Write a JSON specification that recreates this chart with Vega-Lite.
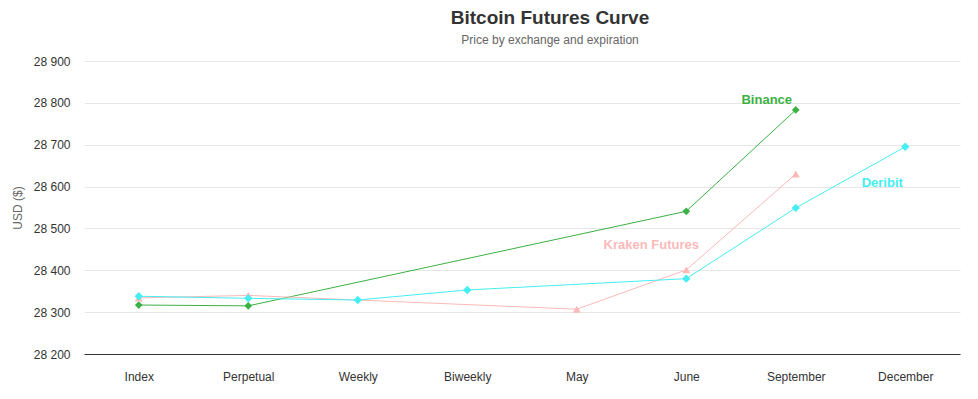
{
  "$schema": "https://vega.github.io/schema/vega-lite/v6.json",
  "width": 876,
  "height": 293,
  "autosize": "none",
  "padding": {"left": 84, "top": 61, "right": 18, "bottom": 45},
  "background": "white",
  "view": {"stroke": null},
  "title": {
    "text": "Bitcoin Futures Curve",
    "subtitle": "Price by exchange and expiration",
    "anchor": "middle",
    "frame": "group",
    "dx": 28,
    "offset": 9,
    "font": "Liberation Sans",
    "fontSize": 19,
    "fontWeight": "bold",
    "color": "#333333",
    "subtitleFont": "Liberation Sans",
    "subtitleFontSize": 12,
    "subtitleColor": "#666666",
    "subtitlePadding": 7
  },
  "datasets": {
    "prices": [
      {"series": "Binance", "expiry": "Index", "price": 28317},
      {"series": "Binance", "expiry": "Perpetual", "price": 28315},
      {"series": "Binance", "expiry": "June", "price": 28541},
      {"series": "Binance", "expiry": "September", "price": 28783},
      {"series": "Kraken Futures", "expiry": "Index", "price": 28334},
      {"series": "Kraken Futures", "expiry": "Perpetual", "price": 28340},
      {"series": "Kraken Futures", "expiry": "May", "price": 28307},
      {"series": "Kraken Futures", "expiry": "June", "price": 28401},
      {"series": "Kraken Futures", "expiry": "September", "price": 28630},
      {"series": "Deribit", "expiry": "Index", "price": 28338},
      {"series": "Deribit", "expiry": "Perpetual", "price": 28333},
      {"series": "Deribit", "expiry": "Weekly", "price": 28329},
      {"series": "Deribit", "expiry": "Biweekly", "price": 28353},
      {"series": "Deribit", "expiry": "June", "price": 28380},
      {"series": "Deribit", "expiry": "September", "price": 28549},
      {"series": "Deribit", "expiry": "December", "price": 28695}
    ],
    "labels": [
      {"series": "Binance", "expiry": "September", "price": 28807},
      {"series": "Kraken Futures", "expiry": "June", "price": 28460},
      {"series": "Deribit", "expiry": "December", "price": 28608}
    ]
  },
  "encoding": {
    "x": {
      "field": "expiry",
      "type": "ordinal",
      "scale": {
        "type": "point",
        "padding": 0.5,
        "domain": ["Index", "Perpetual", "Weekly", "Biweekly", "May", "June", "September", "December"]
      },
      "axis": {
        "title": null,
        "labelAngle": 0,
        "ticks": false,
        "tickSize": 0,
        "labelPadding": 17,
        "labelFont": "Liberation Sans",
        "labelFontSize": 12,
        "labelColor": "#333333",
        "domainColor": "#333333",
        "domainWidth": 1,
        "grid": false
      }
    },
    "y": {
      "field": "price",
      "type": "quantitative",
      "scale": {"domain": [28200, 28900], "nice": false, "zero": false},
      "axis": {
        "title": "USD ($)",
        "titleFont": "Liberation Sans",
        "titleFontSize": 12,
        "titleFontWeight": "normal",
        "titleColor": "#666666",
        "titlePadding": 9,
        "values": [28200, 28300, 28400, 28500, 28600, 28700, 28800, 28900],
        "labelExpr": "replace(format(datum.value, ','), ',', ' ')",
        "labelFont": "Liberation Sans",
        "labelFontSize": 12,
        "labelColor": "#333333",
        "labelPadding": 14,
        "ticks": false,
        "tickSize": 0,
        "domain": false,
        "grid": true,
        "gridColor": "#e6e6e6",
        "gridWidth": 1
      }
    },
    "color": {
      "field": "series",
      "type": "nominal",
      "scale": {
        "domain": ["Binance", "Kraken Futures", "Deribit"],
        "range": ["#3bb143", "#fbb9b9", "#44eef2"]
      },
      "legend": null
    }
  },
  "layer": [
    {
      "data": {"name": "prices"},
      "mark": {"type": "line", "strokeWidth": 1},
      "encoding": {"detail": {"field": "series"}}
    },
    {
      "data": {"name": "prices"},
      "mark": {"type": "point", "filled": true, "opacity": 1},
      "encoding": {
        "shape": {
          "field": "series",
          "type": "nominal",
          "scale": {
            "domain": ["Binance", "Kraken Futures", "Deribit"],
            "range": ["diamond", "triangle-up", "diamond"]
          },
          "legend": null
        },
        "size": {
          "field": "series",
          "type": "nominal",
          "scale": {
            "domain": ["Binance", "Kraken Futures", "Deribit"],
            "range": [60, 70, 60]
          },
          "legend": null
        }
      }
    },
    {
      "data": {"name": "labels"},
      "transform": [{"filter": "datum.series === 'Binance'"}],
      "mark": {"type": "text", "dx": -29, "font": "Liberation Sans", "fontSize": 13, "fontWeight": "bold", "baseline": "middle", "align": "center"},
      "encoding": {"text": {"field": "series"}}
    },
    {
      "data": {"name": "labels"},
      "transform": [{"filter": "datum.series === 'Kraken Futures'"}],
      "mark": {"type": "text", "dx": -35, "font": "Liberation Sans", "fontSize": 13, "fontWeight": "bold", "baseline": "middle", "align": "center"},
      "encoding": {"text": {"field": "series"}}
    },
    {
      "data": {"name": "labels"},
      "transform": [{"filter": "datum.series === 'Deribit'"}],
      "mark": {"type": "text", "dx": -23, "font": "Liberation Sans", "fontSize": 13, "fontWeight": "bold", "baseline": "middle", "align": "center"},
      "encoding": {"text": {"field": "series"}}
    }
  ]
}
